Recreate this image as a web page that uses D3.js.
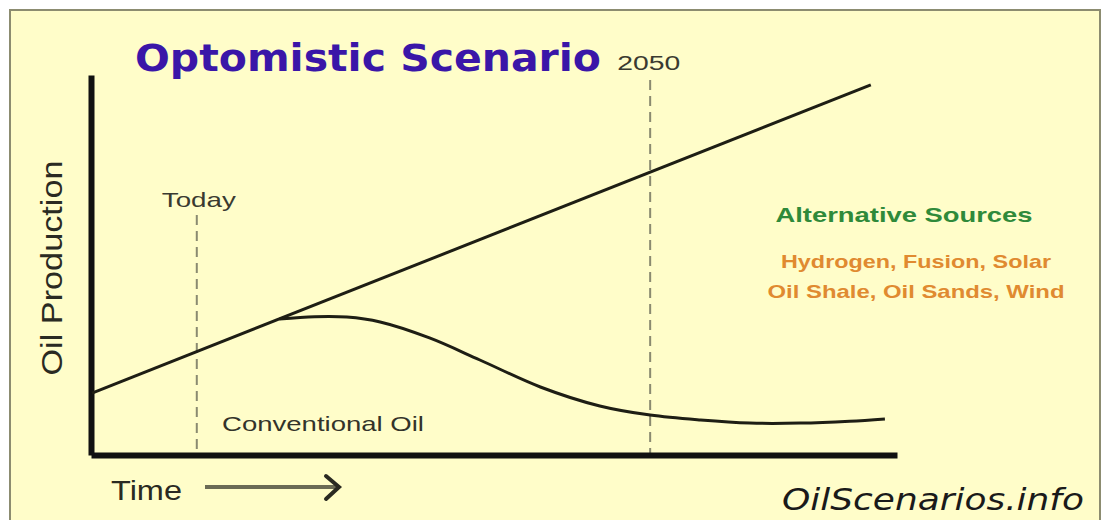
<!DOCTYPE html>
<html>
<head>
<meta charset="utf-8">
<script src="https://cdn.jsdelivr.net/npm/d3@7"></script>
<style>
  body { margin: 0; background: #fff; }
  svg { display: block; }
</style>
</head>
<body>
<div id="chart"></div>
<script>
// years on the time axis, production in arbitrary units
const markerYears = [2005, 2050]
const markerLabels = ['Today', '2050']

const altYears = [1994.6, 2071.9]
const altValues = [16.3, 97.4]

const convYears = [2013.2, 2016.7, 2019.9, 2023.2, 2028.1, 2033.1, 2039.1, 2045, 2050, 2055, 2059.9, 2064.9, 2069.8, 2073.3]
const convValues = [35.8, 36.4, 36.3, 35.0, 30.8, 25.0, 17.9, 12.9, 10.5, 9.2, 8.4, 8.4, 8.9, 9.5]

const altSources = ['Hydrogen, Fusion, Solar', 'Oil Shale, Oil Sands, Wind']

const width = 1102
const height = 520

const svg = d3
  .select('#chart')
  .append('svg')
  .attr('width', width)
  .attr('height', height)

// panel
svg
  .append('rect')
  .attr('x', 10)
  .attr('y', 10)
  .attr('width', 1090)
  .attr('height', 520)
  .attr('fill', '#fffdc9')
  .attr('stroke', '#8c8c70')
  .attr('stroke-width', 2)

const x = d3.scaleLinear().domain([1994.5, 2074.5]).range([91, 897])
const y = d3.scaleLinear().domain([0, 100]).range([455, 75])

// dashed markers
svg
  .selectAll('.marker')
  .data(markerYears)
  .enter()
  .append('line')
  .attr('class', 'marker')
  .attr('x1', d => x(d))
  .attr('x2', d => x(d))
  .attr('y1', (d, i) => (i === 0 ? 215 : 80))
  .attr('y2', y(0))
  .attr('stroke', '#8a8a70')
  .attr('stroke-width', 2)
  .attr('stroke-dasharray', '10,6')

svg
  .selectAll('.marker-label')
  .data(markerYears)
  .enter()
  .append('text')
  .attr('class', 'marker-label')
  .text((d, i) => markerLabels[i])
  .attr('x', (d, i) => (i === 0 ? x(d) - 35 : x(d) - 33))
  .attr('y', (d, i) => (i === 0 ? 207 : 70))
  .attr('textLength', (d, i) => (i === 0 ? 74 : 63))
  .attr('lengthAdjust', 'spacingAndGlyphs')
  .style('font-family', 'Liberation Sans, Arial, sans-serif')
  .style('font-size', (d, i) => (i === 0 ? '21px' : '20px'))
  .attr('fill', '#3a3a30')

// axes
const xAxis = d3.axisBottom(x).ticks(0).tickSizeOuter(0)
const yAxis = d3.axisLeft(y).ticks(0).tickSizeOuter(0)

svg
  .append('g')
  .attr('transform', 'translate(0,' + y(0) + ')')
  .call(xAxis)
  .select('.domain')
  .attr('stroke', '#111')
  .attr('stroke-width', 6)

svg
  .append('g')
  .attr('transform', 'translate(' + x.range()[0] + ',0)')
  .call(yAxis)
  .select('.domain')
  .attr('stroke', '#111')
  .attr('stroke-width', 6)

const line = d3
  .line()
  .x(d => x(d[0]))
  .y(d => y(d[1]))

svg
  .append('path')
  .datum(d3.zip(altYears, altValues))
  .attr('d', line)
  .attr('fill', 'none')
  .attr('stroke', '#1e1e14')
  .attr('stroke-width', 3)

svg
  .append('path')
  .datum(d3.zip(convYears, convValues))
  .attr('d', line.curve(d3.curveCatmullRom.alpha(0.5)))
  .attr('fill', 'none')
  .attr('stroke', '#1e1e14')
  .attr('stroke-width', 3)

// texts
svg
  .append('text')
  .text('Optomistic Scenario')
  .attr('x', 135)
  .attr('y', 71)
  .attr('textLength', 466)
  .attr('lengthAdjust', 'spacingAndGlyphs')
  .style('font-family', 'DejaVu Sans, sans-serif')
  .style('font-weight', 'bold')
  .style('font-size', '37px')
  .attr('fill', '#3a16a8')

svg
  .append('text')
  .text('Oil Production')
  .attr('transform', 'translate(62,268) rotate(-90)')
  .attr('text-anchor', 'middle')
  .attr('textLength', 215)
  .attr('lengthAdjust', 'spacingAndGlyphs')
  .style('font-family', 'Liberation Sans, Arial, sans-serif')
  .style('font-size', '30px')
  .attr('fill', '#2a2a22')

svg
  .append('text')
  .text('Alternative Sources')
  .attr('x', 904)
  .attr('y', 222)
  .attr('text-anchor', 'middle')
  .attr('textLength', 257)
  .attr('lengthAdjust', 'spacingAndGlyphs')
  .style('font-family', 'Liberation Sans, Arial, sans-serif')
  .style('font-weight', 'bold')
  .style('font-size', '21px')
  .attr('fill', '#2f8a3a')

svg
  .selectAll('.alt')
  .data(altSources)
  .enter()
  .append('text')
  .attr('class', 'alt')
  .text(d => d)
  .attr('x', 916)
  .attr('y', (d, i) => 268 + i * 30)
  .attr('text-anchor', 'middle')
  .attr('textLength', (d, i) => (i === 0 ? 270 : 297))
  .attr('lengthAdjust', 'spacingAndGlyphs')
  .style('font-family', 'Liberation Sans, Arial, sans-serif')
  .style('font-weight', 'bold')
  .style('font-size', '19px')
  .attr('fill', '#e08a30')

svg
  .append('text')
  .text('Conventional Oil')
  .attr('x', 222)
  .attr('y', 431)
  .attr('textLength', 202)
  .attr('lengthAdjust', 'spacingAndGlyphs')
  .style('font-family', 'Liberation Sans, Arial, sans-serif')
  .style('font-size', '21px')
  .attr('fill', '#33332a')

svg
  .append('text')
  .text('Time')
  .attr('x', 111)
  .attr('y', 500)
  .attr('textLength', 71)
  .attr('lengthAdjust', 'spacingAndGlyphs')
  .style('font-family', 'Liberation Sans, Arial, sans-serif')
  .style('font-size', '27px')
  .attr('fill', '#2a2a22')

// time arrow
svg
  .append('line')
  .attr('x1', 205)
  .attr('x2', 338)
  .attr('y1', 487)
  .attr('y2', 487)
  .attr('stroke', '#6b6b55')
  .attr('stroke-width', 4)

svg
  .append('path')
  .attr('d', 'M326,476 L339,487 L326,499')
  .attr('fill', 'none')
  .attr('stroke', '#2a2a22')
  .attr('stroke-width', 4)
  .attr('stroke-linecap', 'round')

svg
  .append('text')
  .text('OilScenarios.info')
  .attr('x', 782)
  .attr('y', 510)
  .attr('textLength', 302)
  .attr('lengthAdjust', 'spacingAndGlyphs')
  .style('font-family', 'DejaVu Sans, sans-serif')
  .style('font-style', 'italic')
  .style('font-size', '31px')
  .attr('fill', '#1a1a1a')
</script>
</body>
</html>
